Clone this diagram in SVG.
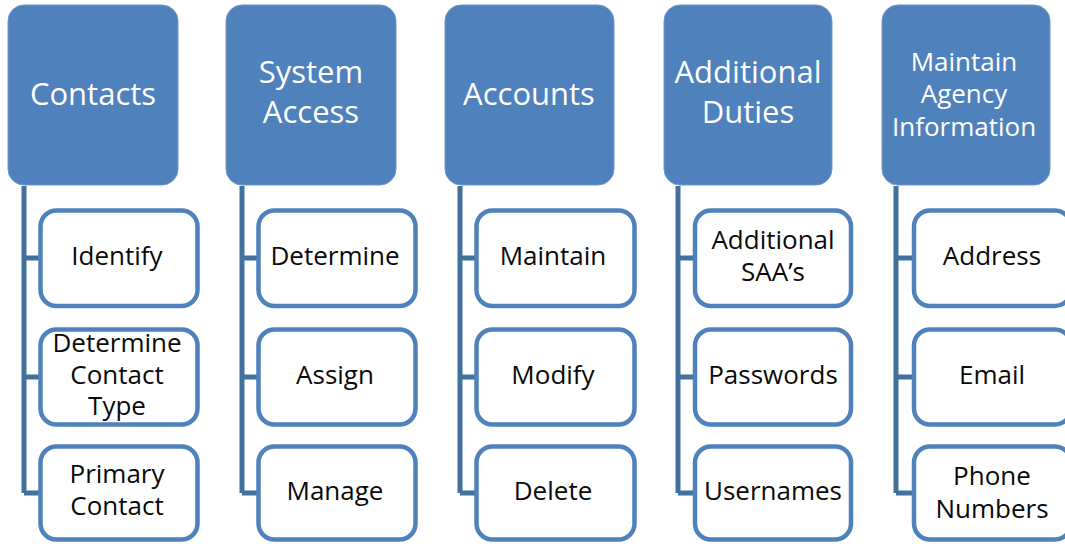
<svg xmlns="http://www.w3.org/2000/svg" width="1065" height="544" viewBox="0 0 1065 544">
<style>
.hdr{fill:#4f81bd;stroke:#6f95c6;stroke-width:1}
.child{fill:#ffffff;stroke:#4f81bd;stroke-width:4.5}
.ht{font-family:"Open Sans","Noto Sans",sans-serif;font-size:31px;fill:#ffffff;text-anchor:middle}
.hs{font-size:26px}
.ct{font-family:"Open Sans","Noto Sans",sans-serif;font-size:26px;fill:#0a0a0a;text-anchor:middle}
.conn{fill:none;stroke:#41719c;stroke-width:5}
</style>
<rect width="1065" height="544" fill="#ffffff"/>
<g id="connectors" class="conn">
<path d="M24,186 V493 M24,258 H40 M24,377 H40 M24,493 H40"/>
<path d="M242,186 V493 M242,258 H258 M242,377 H258 M242,493 H258"/>
<path d="M460,186 V493 M460,258 H476 M460,377 H476 M460,493 H476"/>
<path d="M678,186 V493 M678,258 H694 M678,377 H694 M678,493 H694"/>
<path d="M896,186 V493 M896,258 H912 M896,377 H912 M896,493 H912"/>
</g>
<g id="contacts"><rect class="hdr" x="8" y="5" width="170" height="180" rx="16"/><text class="ht" x="93" y="105">Contacts</text></g>
<g id="system-access"><rect class="hdr" x="226" y="5" width="170" height="180" rx="16"/><text class="ht" x="311" y="83">System</text><text class="ht" x="311" y="123">Access</text></g>
<g id="accounts"><rect class="hdr" x="445" y="5" width="169" height="180" rx="16"/><text class="ht" x="529" y="105">Accounts</text></g>
<g id="additional-duties"><rect class="hdr" x="664" y="5" width="168" height="180" rx="16"/><text class="ht" x="748" y="83">Additional</text><text class="ht" x="748" y="123">Duties</text></g>
<g id="maintain-agency"><rect class="hdr" x="882" y="5" width="168" height="180" rx="16"/><text class="ht hs" x="964" y="71">Maintain</text><text class="ht hs" x="964" y="103">Agency</text><text class="ht hs" x="964" y="136">Information</text></g>

<g id="identify"><rect class="child" x="40.5" y="210.5" width="157" height="95.5" rx="16"/><text class="ct" x="117" y="265">Identify</text></g>
<g id="determine-contact-type"><rect class="child" x="40.5" y="329.5" width="157" height="95" rx="16"/><text class="ct" x="117" y="352">Determine</text><text class="ct" x="117" y="384">Contact</text><text class="ct" x="117" y="415">Type</text></g>
<g id="primary-contact"><rect class="child" x="40.5" y="446.5" width="157" height="93" rx="16"/><text class="ct" x="117" y="483">Primary</text><text class="ct" x="117" y="515">Contact</text></g>

<g id="determine"><rect class="child" x="258.5" y="210.5" width="157" height="95.5" rx="16"/><text class="ct" x="335" y="265">Determine</text></g>
<g id="assign"><rect class="child" x="258.5" y="329.5" width="157" height="95" rx="16"/><text class="ct" x="335" y="384">Assign</text></g>
<g id="manage"><rect class="child" x="258.5" y="446.5" width="157" height="93" rx="16"/><text class="ct" x="335" y="500">Manage</text></g>

<g id="maintain"><rect class="child" x="476.5" y="210.5" width="158" height="95.5" rx="16"/><text class="ct" x="553" y="265">Maintain</text></g>
<g id="modify"><rect class="child" x="476.5" y="329.5" width="158" height="95" rx="16"/><text class="ct" x="553" y="384">Modify</text></g>
<g id="delete"><rect class="child" x="476.5" y="446.5" width="158" height="93" rx="16"/><text class="ct" x="553" y="500">Delete</text></g>

<g id="additional-saas"><rect class="child" x="695" y="210.5" width="156" height="95.5" rx="16"/><text class="ct" x="773" y="249">Additional</text><text class="ct" x="773" y="281">SAA’s</text></g>
<g id="passwords"><rect class="child" x="695" y="329.5" width="156" height="95" rx="16"/><text class="ct" x="773" y="384">Passwords</text></g>
<g id="usernames"><rect class="child" x="695" y="446.5" width="156" height="93" rx="16"/><text class="ct" x="773" y="500">Usernames</text></g>

<g id="address"><rect class="child" x="914" y="210.5" width="157" height="95.5" rx="16"/><text class="ct" x="992" y="265">Address</text></g>
<g id="email"><rect class="child" x="914" y="329.5" width="157" height="95" rx="16"/><text class="ct" x="992" y="384">Email</text></g>
<g id="phone-numbers"><rect class="child" x="914" y="446.5" width="157" height="93" rx="16"/><text class="ct" x="992" y="485">Phone</text><text class="ct" x="992" y="518">Numbers</text></g>
</svg>
